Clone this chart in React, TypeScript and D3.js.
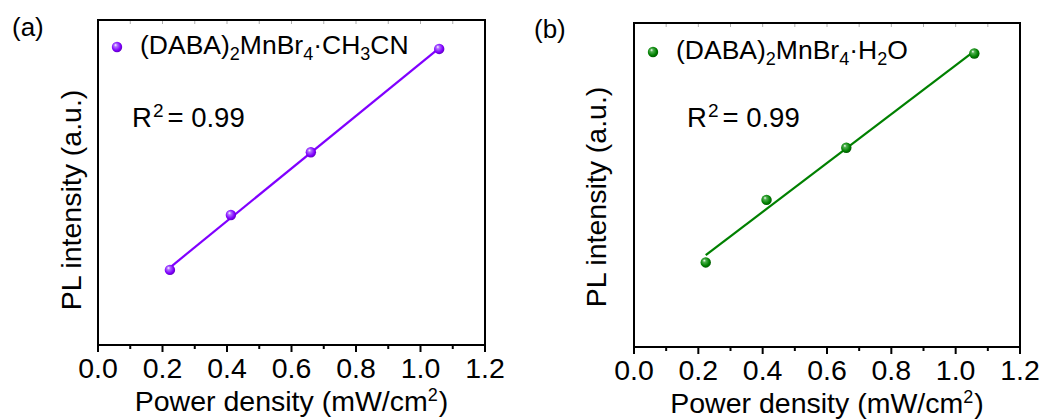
import React from "react";
import * as d3 from "d3";

// ---- data ----
const powerDensity = [0.223, 0.412, 0.66, 1.058];
const intensityA = [0.231, 0.4, 0.593, 0.911];
const intensityB = [0.261, 0.454, 0.615, 0.906];
const xTickValues = [0, 0.2, 0.4, 0.6, 0.8, 1.0, 1.2];
const xMinorTicks = [0.1, 0.3, 0.5, 0.7, 0.9, 1.1];
const xTitle = "Power density (mW/cm";
const yTitle = "PL intensity (a.u.)";
const r2Label = "0.99";

const FONT = "'Liberation Sans', Arial, Helvetica, sans-serif";

type PanelProps = {
  id: string;
  letter: string;
  left: number;
  right: number;
  top: number;
  bottom: number;
  ys: number[];
  color: string;
  dark: string;
  light: string;
  legend: React.ReactNode;
  letterPos: [number, number];
  legendPos: [number, number];
  r2Pos: [number, number];
  yTitleX: number;
  yTitleY: number;
};

function linreg(xs: number[], ys: number[]) {
  const mx = d3.mean(xs) as number;
  const my = d3.mean(ys) as number;
  let sxy = 0,
    sxx = 0;
  xs.forEach((x, i) => {
    sxy += (x - mx) * (ys[i] - my);
    sxx += (x - mx) * (x - mx);
  });
  const slope = sxy / sxx;
  return { slope, intercept: my - slope * mx };
}

function Panel(p: PanelProps) {
  const x = d3.scaleLinear().domain([0, 1.2]).range([p.left, p.right]);
  const y = d3.scaleLinear().domain([0, 1]).range([p.bottom, p.top]);
  const fit = linreg(powerDensity, p.ys);
  const x0 = d3.min(powerDensity) as number;
  const x1 = d3.max(powerDensity) as number;
  const line = d3
    .line<number>()
    .x((d) => x(d))
    .y((d) => y(fit.intercept + fit.slope * d));
  const gid = `grad-${p.id}`;
  const cx = (p.left + p.right) / 2;
  return (
    <g>
      <defs>
        <radialGradient id={gid} cx="0.45" cy="0.45" r="0.6" fx="0.35" fy="0.3">
          <stop offset="0" stopColor="#ffffff" />
          <stop offset="0.25" stopColor={p.light} />
          <stop offset="0.7" stopColor={p.color} />
          <stop offset="1" stopColor={p.dark} />
        </radialGradient>
      </defs>
      {/* top faint ticks */}
      {[...xTickValues, ...xMinorTicks].map((t, i) => (
        <line key={"tt" + i} x1={x(t)} x2={x(t)} y1={p.top} y2={p.top + 4} stroke="#999" strokeWidth={0.8} />
      ))}
      {/* frame */}
      <rect x={p.left} y={p.top} width={p.right - p.left} height={p.bottom - p.top} fill="none" stroke="#000" strokeWidth={2} />
      {/* bottom ticks */}
      {xTickValues.map((t, i) => (
        <line key={"mj" + i} x1={x(t)} x2={x(t)} y1={p.bottom} y2={p.bottom + 7} stroke="#000" strokeWidth={2} />
      ))}
      {xMinorTicks.map((t, i) => (
        <line key={"mn" + i} x1={x(t)} x2={x(t)} y1={p.bottom} y2={p.bottom + 4} stroke="#000" strokeWidth={2} />
      ))}
      {xTickValues.map((t, i) => (
        <text key={"tl" + i} x={x(t)} y={p.bottom + 33} textAnchor="middle" fontSize={28.5} fontFamily={FONT}>
          {d3.format(".1f")(t)}
        </text>
      ))}
      {/* x title */}
      <text x={cx} y={p.bottom + 66} textAnchor="middle" fontSize={28.5} fontFamily={FONT}>
        {xTitle}
        <tspan fontSize={18} dy={-10}>2</tspan>
        <tspan dy={10} dx={1}>)</tspan>
      </text>
      {/* y title */}
      <text
        transform={`translate(${p.yTitleX},${p.yTitleY}) rotate(-90)`}
        textAnchor="middle"
        fontSize={28.5}
        fontFamily={FONT}
      >
        {yTitle}
      </text>
      {/* panel letter */}
      <text x={p.letterPos[0]} y={p.letterPos[1]} fontSize={26} fontFamily={FONT}>
        {p.letter}
      </text>
      {/* fit line */}
      <path d={line([x0, x1]) || ""} fill="none" stroke={p.color} strokeWidth={2.2} />
      {/* points */}
      {powerDensity.map((v, i) => (
        <circle key={"pt" + i} cx={x(v)} cy={y(p.ys[i])} r={5.2} fill={`url(#${gid})`} />
      ))}
      {/* legend */}
      <circle cx={p.legendPos[0]} cy={p.legendPos[1]} r={5.2} fill={`url(#${gid})`} />
      <text x={p.legendPos[0] + 23} y={p.legendPos[1] + 7} fontSize={26.5} fontFamily={FONT}>
        {p.legend}
      </text>
      {/* R2 */}
      <text x={p.r2Pos[0]} y={p.r2Pos[1]} fontSize={27.5} fontFamily={FONT}>
        R<tspan fontSize={19} dy={-10} dx={1}>2</tspan>
        <tspan dy={10} dx={4}>= {r2Label}</tspan>
      </text>
    </g>
  );
}

const sub = (s: string) => (
  <tspan fontSize={18} dy={6}>
    {s}
  </tspan>
);
const up = (s: string) => <tspan dy={-6}>{s}</tspan>;

export default function App() {
  const legendA = (
    <>
      (DABA){sub("2")}
      {up("MnBr")}
      {sub("4")}
      {up("·CH")}
      {sub("3")}
      {up("CN")}
    </>
  );
  const legendB = (
    <>
      (DABA){sub("2")}
      {up("MnBr")}
      {sub("4")}
      {up("·H")}
      {sub("2")}
      {up("O")}
    </>
  );
  return (
    <svg
      width={1043}
      height={419}
      style={{ position: "absolute", left: 0, top: 0, background: "#fff" }}
    >
      <rect width={1043} height={419} fill="#fff" />
      <Panel
        id="a"
        letter="(a)"
        left={98}
        right={485}
        top={20}
        bottom={345}
        ys={intensityA}
        color="#8000ff"
        dark="#5a00b4"
        light="#b070ff"
        legend={legendA}
        letterPos={[12, 36]}
        legendPos={[117, 47]}
        r2Pos={[132, 127]}
        yTitleX={81}
        yTitleY={200}
      />
      <Panel
        id="b"
        letter="(b)"
        left={634}
        right={1020}
        top={23}
        bottom={347}
        ys={intensityB}
        color="#008000"
        dark="#005000"
        light="#50b050"
        legend={legendB}
        letterPos={[534, 38]}
        legendPos={[653, 52]}
        r2Pos={[687, 127]}
        yTitleX={606}
        yTitleY={197}
      />
    </svg>
  );
}
